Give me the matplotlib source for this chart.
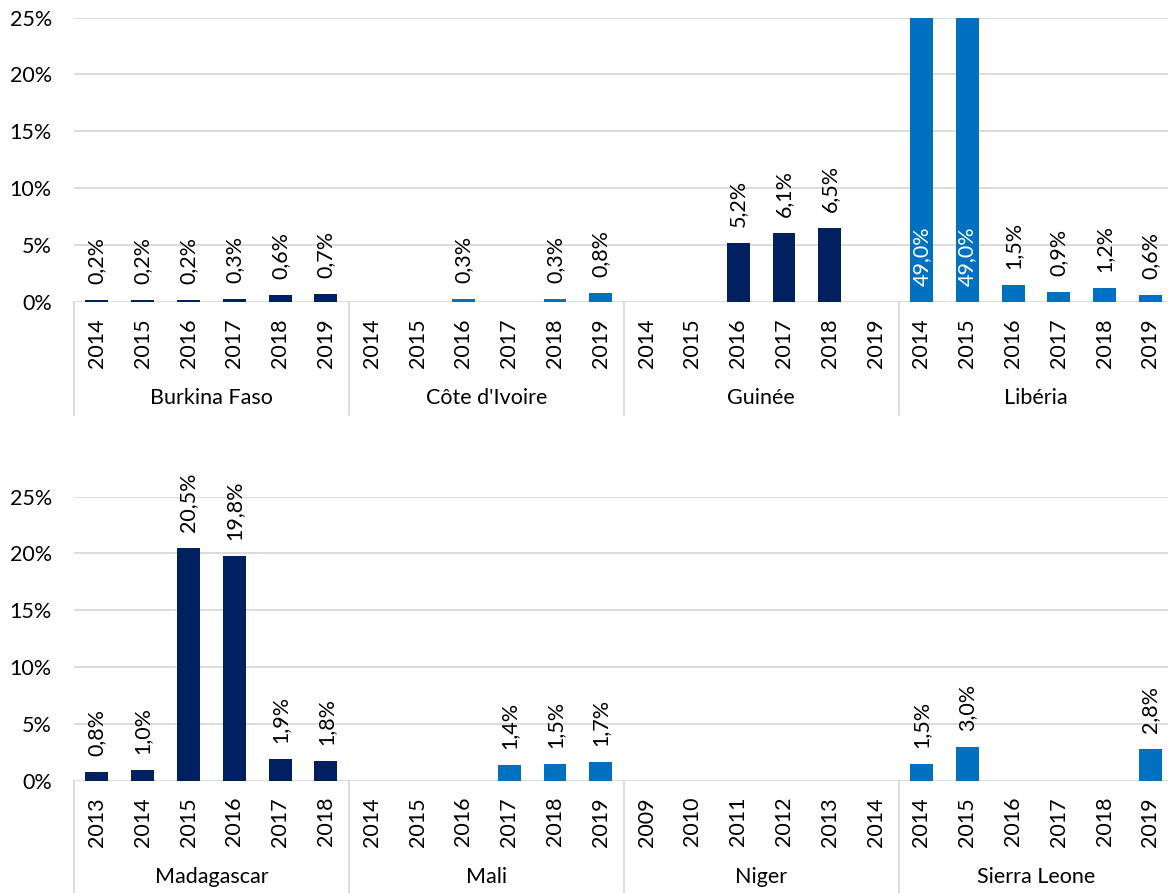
import matplotlib
matplotlib.use("Agg")
import matplotlib.pyplot as plt

plt.rcParams['font.family'] = ['Lato', 'DejaVu Sans']

DARK = "#002060"
LIGHT = "#0070C0"
GRID = "#D9D9D9"
TXT = "#000000"

# ---- data ----
top_groups = ["Burkina Faso", "Côte d'Ivoire", "Guinée", "Libéria"]
top_years = [[2014, 2015, 2016, 2017, 2018, 2019]] * 4
top_values = [
    [0.2, 0.2, 0.2, 0.3, 0.6, 0.7],
    [None, None, 0.3, None, 0.3, 0.8],
    [None, None, 5.2, 6.1, 6.5, None],
    [49.0, 49.0, 1.5, 0.9, 1.2, 0.6],
]
top_colors = [DARK, LIGHT, DARK, LIGHT]

bot_groups = ["Madagascar", "Mali", "Niger", "Sierra Leone"]
bot_years = [
    [2013, 2014, 2015, 2016, 2017, 2018],
    [2014, 2015, 2016, 2017, 2018, 2019],
    [2009, 2010, 2011, 2012, 2013, 2014],
    [2014, 2015, 2016, 2017, 2018, 2019],
]
bot_values = [
    [0.8, 1.0, 20.5, 19.8, 1.9, 1.8],
    [None, None, None, 1.4, 1.5, 1.7],
    [None, None, None, None, None, None],
    [1.5, 3.0, None, None, None, 2.8],
]
bot_colors = [DARK, LIGHT, LIGHT, LIGHT]

yticks = [0, 5, 10, 15, 20, 25]
ymax = 25

W, H = 1168, 893
fig = plt.figure(figsize=(W / 100, H / 100), dpi=100)

FS = 15.5


def panel(y0_px, groups, years, values, colors):
    left = 74
    right = 1173.4
    height = 284.4
    ax = fig.add_axes([left / W, (H - y0_px) / H, (right - left) / W, height / H])
    ax.set_xlim(-0.5, 23.5)
    ax.set_ylim(0, ymax)
    for s in ax.spines.values():
        s.set_visible(False)
    ax.set_yticks(yticks)
    ax.set_yticklabels([f"{t}%" for t in yticks])
    ax.tick_params(axis='y', length=0, pad=16, labelsize=FS, labelcolor=TXT)
    ax.set_xticks([])
    ax.yaxis.grid(True, color=GRID, linewidth=1.3)
    ax.set_axisbelow(True)
    xt = ax.get_xaxis_transform()
    sep_depth = 113 / height
    for g, (name, yrs, vals, col) in enumerate(zip(groups, years, values, colors)):
        base = g * 6
        xs = [base + i for i, v in enumerate(vals) if v is not None]
        hs = [v for v in vals if v is not None]
        ax.bar(xs, hs, width=0.5, color=col, zorder=3)
        for x, v in zip(xs, hs):
            lab = f"{v:.1f}%".replace('.', ',')
            if v > ymax:
                ax.annotate(lab, xy=(x, 0), xytext=(0, 16), textcoords='offset pixels',
                            rotation=90, ha='center', va='bottom', fontsize=FS,
                            color='white', zorder=4)
            else:
                ax.annotate(lab, xy=(x, v), xytext=(0, 16), textcoords='offset pixels',
                            rotation=90, ha='center', va='bottom', fontsize=FS,
                            color=TXT, zorder=4)
        for i, yr in enumerate(yrs):
            ax.annotate(str(yr), xy=(base + i, 0), xycoords=('data', 'axes fraction'),
                        xytext=(0, -16), textcoords='offset pixels', rotation=90,
                        ha='center', va='top', fontsize=FS, color=TXT,
                        annotation_clip=False)
        ax.annotate(name, xy=(base + 2.5, 0), xycoords=('data', 'axes fraction'),
                    xytext=(0, -96), textcoords='offset pixels', ha='center',
                    va='center', fontsize=FS, color=TXT, annotation_clip=False)
        ax.plot([base - 0.5, base - 0.5], [0, -sep_depth], transform=xt,
                color=GRID, linewidth=1.3, clip_on=False)
    ax.plot([23.5, 23.5], [0, -sep_depth], transform=xt, color=GRID,
            linewidth=1.3, clip_on=False)
    return ax


panel(302, top_groups, top_years, top_values, top_colors)
panel(781, bot_groups, bot_years, bot_values, bot_colors)

fig.savefig("out.png", dpi=100, facecolor='white')
